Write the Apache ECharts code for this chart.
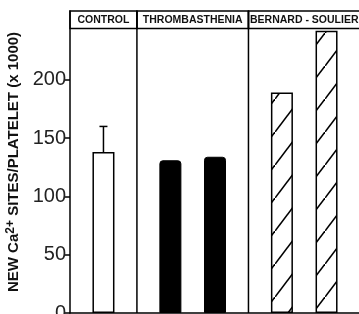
<!DOCTYPE html>
<html>
<head>
<meta charset="utf-8">
<script src="https://cdn.jsdelivr.net/npm/echarts@6/dist/echarts.min.js"></script>
<style>
  html, body { margin: 0; padding: 0; background: #fff; }
  #chart { width: 359px; height: 314px; }
</style>
</head>
<body>
<div id="chart"></div>
<script>
// panels (header text) and how many category slots each panel takes
const groups = ['CONTROL', 'THROMBASTHENIA', 'BERNARD - SOULIER'];
const groupSlots = [3, 5, 5];

// values (x 1000 new Ca2+ sites / platelet)
const controlValue = [138];
const controlErrHigh = [160];
const thrombValues = [131, 134];
const bernardValues = [189, 242];

const yTicks = [0, 50, 100, 150, 200];

// slot index of each bar inside the 13-slot category axis
const controlSlots = [1];
const thrombSlots = [4, 6];
const bernardSlots = [9, 11];

const nSlots = groupSlots.reduce((a, b) => a + b, 0);
const slots = Array.from({ length: nSlots }, (_, i) => String(i));

function fill(idx, vals) {
  const arr = new Array(nSlots).fill(null);
  idx.forEach((s, k) => { arr[s] = vals[k]; });
  return arr;
}

// hatch pattern "/"
function hatch() {
  const c = document.createElement('canvas');
  c.width = 25; c.height = 33;
  const g = c.getContext('2d');
  g.fillStyle = '#fff';
  g.fillRect(0, 0, 25, 33);
  g.strokeStyle = '#000';
  g.lineWidth = 1.6;
  g.beginPath();
  g.moveTo(-2, 33 + 2.64); g.lineTo(27, -2.64);
  g.stroke();
  return c;
}

const chart = echarts.init(document.getElementById('chart'), null, { renderer: 'canvas' });

const option = {
  animation: false,
  grid: { left: 70, top: 11, width: 290, bottom: 1, outerBoundsMode: 'none', containLabel: false },
  xAxis: {
    type: 'category',
    data: slots,
    axisLine: { lineStyle: { color: '#000', width: 1.5 } },
    axisTick: { show: false },
    axisLabel: { show: false },
    splitLine: { show: false }
  },
  yAxis: {
    type: 'value',
    min: 0,
    max: 259,
    interval: 50,
    name: '{t|NEW Ca}{s|2+}{t| SITES/PLATELET (x 1000)}',
    nameLocation: 'middle',
    nameRotate: 90,
    nameGap: 42,
    nameTextStyle: {
      rich: {
        t: { fontFamily: 'Liberation Sans', fontWeight: 'bold', fontSize: 15, color: '#111' },
        s: { fontFamily: 'Liberation Sans', fontWeight: 'bold', fontSize: 12, color: '#111', verticalAlign: 'top', padding: [0, 0, 7, 0] }
      }
    },
    axisLine: { show: true, lineStyle: { color: '#000', width: 1.5 } },
    axisTick: { show: true, length: 5, customValues: yTicks, lineStyle: { color: '#000', width: 1.5 } },
    axisLabel: {
      customValues: yTicks,
      margin: 4,
      fontFamily: 'Liberation Sans',
      fontSize: 20,
      color: '#222'
    },
    splitLine: { show: false }
  },
  series: [
    {
      type: 'bar',
      data: fill(controlSlots, controlValue),
      barWidth: 22,
      barGap: '-100%',
      itemStyle: { color: '#fff', borderColor: '#000', borderWidth: 1.5 }
    },
    {
      type: 'bar',
      data: fill(thrombSlots, thrombValues),
      barWidth: 22,
      barGap: '-100%',
      itemStyle: { color: '#000', borderColor: '#000', borderWidth: 1, borderRadius: [3, 3, 0, 0] }
    },
    {
      type: 'bar',
      data: fill(bernardSlots, bernardValues),
      barWidth: 22,
      barGap: '-100%',
      itemStyle: { color: { image: hatch(), repeat: 'repeat' }, borderColor: '#000', borderWidth: 1.5 }
    },
    {
      type: 'custom',
      data: controlSlots.map((s, k) => [s, controlValue[k], controlErrHigh[k]]),
      renderItem: function (params, api) {
        const base = api.coord([api.value(0), api.value(1)]);
        const top = api.coord([api.value(0), api.value(2)]);
        return {
          type: 'group',
          children: [
            { type: 'line', shape: { x1: base[0], y1: base[1], x2: top[0], y2: top[1] }, style: { stroke: '#000', lineWidth: 1.5 } },
            { type: 'line', shape: { x1: top[0] - 4, y1: top[1], x2: top[0] + 4, y2: top[1] }, style: { stroke: '#000', lineWidth: 1.5 } }
          ]
        };
      },
      z: 5
    }
  ]
};

chart.setOption(option);

// panel frame, dividers and header band
function drawPanels() {
  const x0 = chart.convertToPixel({ gridIndex: 0 }, [0, 0]);
  const x1 = chart.convertToPixel({ gridIndex: 0 }, [1, 0]);
  const step = x1[0] - x0[0];
  const left = x0[0] - step / 2;
  const yTop = 11;
  const yHead = 28.5;
  const yBot = x0[1];
  const els = [];
  let start = 0;
  groups.forEach((name, i) => {
    const a = left + start * step;
    const b = left + (start + groupSlots[i]) * step;
    els.push({
      type: 'rect',
      shape: { x: a, y: yTop, width: b - a, height: yHead - yTop },
      style: { fill: 'none', stroke: '#000', lineWidth: 1.5 }
    });
    els.push({
      type: 'line',
      shape: { x1: b, y1: yTop, x2: b, y2: yBot },
      style: { stroke: '#000', lineWidth: 1.5 }
    });
    els.push({
      type: 'text',
      x: (a + b) / 2,
      y: (yTop + yHead) / 2 + 0.5,
      style: {
        text: name, align: 'center', verticalAlign: 'middle',
        font: 'bold 10.5px "Liberation Sans"', fill: '#111'
      }
    });
    start += groupSlots[i];
  });
  chart.setOption({ graphic: els });
}
drawPanels();
</script>
</body>
</html>
